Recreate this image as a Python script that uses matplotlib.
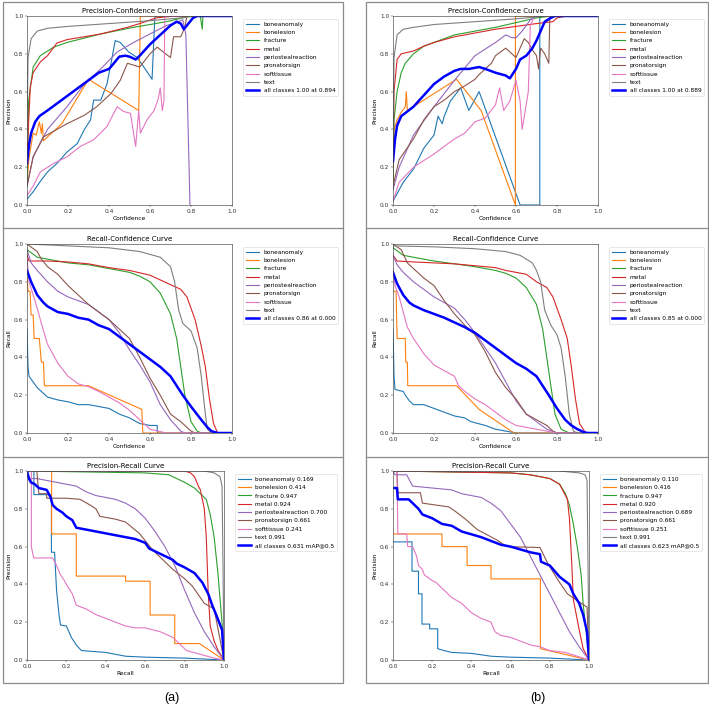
import matplotlib
matplotlib.use("Agg")
import matplotlib.pyplot as plt
from matplotlib.patches import Rectangle
from matplotlib.lines import Line2D

class_names = ["boneanomaly", "bonelesion", "fracture", "metal",
               "periostealreaction", "pronatorsign", "softtissue", "text"]
class_colors = ["C0", "C1", "C2", "C3", "C4", "C5", "C6", "C7"]

ap_a = [0.169, 0.414, 0.947, 0.924, 0.700, 0.661, 0.241, 0.991]
ap_b = [0.110, 0.416, 0.947, 0.920, 0.689, 0.661, 0.251, 0.991]
all_label_pc_a = "all classes 1.00 at 0.894"
all_label_pc_b = "all classes 1.00 at 0.889"
all_label_rc_a = "all classes 0.86 at 0.000"
all_label_rc_b = "all classes 0.85 at 0.000"
all_label_pr_a = "all classes 0.631 mAP@0.5"
all_label_pr_b = "all classes 0.623 mAP@0.5"

# ---------- (a) precision-confidence ----------
pc_a_boneanomaly = [(0, 0.03), (0.03, 0.07), (0.065, 0.125), (0.1, 0.175), (0.146, 0.22), (0.195, 0.28),
                    (0.245, 0.325), (0.28, 0.4), (0.31, 0.45), (0.325, 0.555), (0.36, 0.555), (0.39, 0.64),
                    (0.41, 0.75), (0.43, 0.87), (0.455, 0.86), (0.496, 0.81), (0.537, 0.78), (0.57, 0.73),
                    (0.61, 0.665), (0.623, 0.98), (0.625, 1.0), (1.0, 1.0)]
pc_a_bonelesion = [(0, 0.12), (0.01, 0.25), (0.03, 0.38), (0.045, 0.37), (0.06, 0.44), (0.07, 0.38),
                   (0.075, 0.43), (0.08, 0.34), (0.17, 0.43), (0.3, 0.665), (0.545, 0.5), (0.553, 1.0), (1.0, 1.0)]
pc_a_fracture = [(0, 0.1), (0.008, 0.55), (0.03, 0.73), (0.065, 0.79), (0.13, 0.835), (0.195, 0.86),
                 (0.36, 0.905), (0.52, 0.94), (0.68, 0.97), (0.78, 0.995), (0.845, 1.0), (0.855, 0.93),
                 (0.858, 1.0), (1.0, 1.0)]
pc_a_metal = [(0, 0.25), (0.016, 0.625), (0.03, 0.7), (0.065, 0.757), (0.1, 0.79), (0.146, 0.857),
              (0.195, 0.875), (0.36, 0.905), (0.49, 0.94), (0.55, 0.96), (0.63, 0.99), (0.72, 1.0), (1.0, 1.0)]
pc_a_periosteal = [(0, 0.1), (0.03, 0.255), (0.1, 0.4), (0.195, 0.52), (0.28, 0.64), (0.36, 0.72),
                   (0.44, 0.81), (0.52, 0.86), (0.6, 0.905), (0.68, 0.95), (0.715, 0.96), (0.76, 0.98),
                   (0.775, 0.9), (0.795, 0.0)]
pc_a_pronator = [(0, 0.1), (0.03, 0.255), (0.08, 0.36), (0.146, 0.4), (0.195, 0.43), (0.28, 0.475),
                 (0.34, 0.52), (0.41, 0.59), (0.455, 0.66), (0.49, 0.75), (0.55, 0.73), (0.6, 0.8),
                 (0.635, 0.835), (0.7, 0.78), (0.715, 0.89), (0.75, 0.89), (0.77, 0.94), (0.78, 1.0), (1.0, 1.0)]
pc_a_softtissue = [(0, 0.05), (0.03, 0.1), (0.065, 0.175), (0.13, 0.22), (0.195, 0.255), (0.26, 0.31),
                   (0.325, 0.345), (0.39, 0.415), (0.44, 0.52), (0.47, 0.495), (0.505, 0.485), (0.53, 0.31),
                   (0.545, 0.5), (0.553, 0.38), (0.585, 0.45), (0.62, 0.5), (0.64, 0.56), (0.65, 0.62),
                   (0.66, 0.5), (0.668, 0.55), (0.672, 1.0), (1.0, 1.0)]
pc_a_text = [(0, 0.35), (0.005, 0.78), (0.02, 0.88), (0.05, 0.92), (0.1, 0.935), (0.2, 0.945),
             (0.4, 0.96), (0.6, 0.975), (0.75, 0.99), (0.8, 1.0), (1.0, 1.0)]
pc_a_all = [(0, 0.22), (0.01, 0.32), (0.02, 0.38), (0.04, 0.44), (0.06, 0.47), (0.1, 0.5), (0.15, 0.54),
            (0.2, 0.58), (0.25, 0.62), (0.3, 0.66), (0.35, 0.7), (0.4, 0.72), (0.42, 0.745), (0.45, 0.785),
            (0.48, 0.79), (0.5, 0.785), (0.53, 0.77), (0.55, 0.79), (0.6, 0.85), (0.65, 0.9), (0.7, 0.95),
            (0.73, 0.97), (0.75, 0.96), (0.765, 0.93), (0.78, 0.95), (0.81, 0.99), (0.83, 1.0), (1.0, 1.0)]

# ---------- (b) precision-confidence ----------
pc_b_boneanomaly = [(0, 0.02), (0.05, 0.12), (0.1, 0.19), (0.15, 0.3), (0.2, 0.37), (0.22, 0.47),
                    (0.24, 0.43), (0.25, 0.47), (0.28, 0.55), (0.33, 0.62), (0.37, 0.5), (0.42, 0.6),
                    (0.62, 0.0), (0.716, 0.0), (0.716, 1.0), (1.0, 1.0)]
pc_b_bonelesion = [(0, 0.1), (0.005, 0.4), (0.02, 0.45), (0.04, 0.49), (0.06, 0.52), (0.065, 0.6),
                   (0.07, 0.5), (0.31, 0.665), (0.43, 0.5), (0.597, 0.0), (0.597, 1.0), (1.0, 1.0)]
pc_b_fracture = [(0, 0.1), (0.005, 0.45), (0.02, 0.6), (0.04, 0.7), (0.06, 0.75), (0.1, 0.8), (0.15, 0.84),
                 (0.2, 0.86), (0.3, 0.9), (0.4, 0.92), (0.5, 0.94), (0.6, 0.965), (0.7, 0.99), (0.78, 1.0),
                 (1.0, 1.0)]
pc_b_metal = [(0, 0.2), (0.005, 0.6), (0.02, 0.77), (0.04, 0.8), (0.08, 0.81), (0.1, 0.815), (0.15, 0.84),
              (0.2, 0.86), (0.3, 0.89), (0.4, 0.91), (0.5, 0.93), (0.6, 0.945), (0.7, 0.96), (0.78, 0.97),
              (0.8, 0.99), (0.85, 1.0), (1.0, 1.0)]
pc_b_periosteal = [(0, 0.08), (0.03, 0.2), (0.1, 0.37), (0.2, 0.52), (0.3, 0.66), (0.4, 0.79), (0.5, 0.86),
                   (0.55, 0.9), (0.58, 0.885), (0.6, 0.885), (0.63, 0.92), (0.65, 0.95), (0.67, 0.98),
                   (0.7, 1.0), (1.0, 1.0)]
pc_b_pronator = [(0, 0.1), (0.03, 0.24), (0.1, 0.35), (0.15, 0.45), (0.2, 0.52), (0.25, 0.555), (0.3, 0.6),
                 (0.35, 0.63), (0.4, 0.665), (0.42, 0.69), (0.45, 0.72), (0.48, 0.75), (0.5, 0.79),
                 (0.55, 0.83), (0.58, 0.8), (0.6, 0.78), (0.62, 0.83), (0.64, 0.88), (0.66, 0.86),
                 (0.68, 0.82), (0.7, 0.79), (0.71, 0.72), (0.72, 0.83), (0.74, 0.8), (0.76, 0.75),
                 (0.765, 1.0), (1.0, 1.0)]
pc_b_softtissue = [(0, 0.02), (0.03, 0.12), (0.1, 0.2), (0.2, 0.27), (0.3, 0.35), (0.35, 0.38), (0.4, 0.44),
                   (0.45, 0.46), (0.5, 0.53), (0.52, 0.62), (0.54, 0.5), (0.57, 0.55), (0.6, 0.66),
                   (0.62, 0.55), (0.63, 0.4), (0.66, 0.6), (0.67, 0.95), (0.69, 1.0), (1.0, 1.0)]
pc_b_text = [(0, 0.3), (0.005, 0.78), (0.02, 0.9), (0.05, 0.93), (0.1, 0.94), (0.2, 0.955), (0.4, 0.97),
             (0.6, 0.985), (0.75, 1.0), (1.0, 1.0)]
pc_b_all = [(0, 0.23), (0.01, 0.35), (0.02, 0.42), (0.04, 0.47), (0.1, 0.52), (0.15, 0.58), (0.2, 0.64),
            (0.25, 0.68), (0.3, 0.71), (0.33, 0.72), (0.37, 0.72), (0.42, 0.73), (0.45, 0.72), (0.5, 0.7),
            (0.55, 0.685), (0.57, 0.67), (0.6, 0.72), (0.62, 0.77), (0.65, 0.79), (0.68, 0.83), (0.7, 0.87),
            (0.72, 0.92), (0.74, 0.97), (0.77, 0.99), (0.79, 1.0), (1.0, 1.0)]

# ---------- (a) recall-confidence ----------
rc_a_boneanomaly = [(0, 0.55), (0.005, 0.35), (0.01, 0.3), (0.03, 0.27), (0.05, 0.24), (0.07, 0.22),
                    (0.1, 0.19), (0.15, 0.175), (0.2, 0.165), (0.25, 0.15), (0.3, 0.15), (0.4, 0.13),
                    (0.45, 0.1), (0.5, 0.08), (0.55, 0.05), (0.6, 0.04), (0.635, 0.04), (0.636, 0.0), (1.0, 0.0)]
rc_a_bonelesion = [(0, 0.82), (0.005, 0.75), (0.015, 0.75), (0.02, 0.625), (0.03, 0.625), (0.035, 0.5),
                   (0.06, 0.5), (0.07, 0.375), (0.08, 0.375), (0.085, 0.25), (0.3, 0.25), (0.56, 0.125),
                   (0.565, 0.0), (1.0, 0.0)]
rc_a_fracture = [(0, 0.97), (0.05, 0.93), (0.1, 0.92), (0.2, 0.9), (0.3, 0.89), (0.4, 0.87), (0.5, 0.85),
                 (0.55, 0.83), (0.6, 0.8), (0.65, 0.74), (0.7, 0.63), (0.73, 0.5), (0.75, 0.35), (0.77, 0.2),
                 (0.8, 0.06), (0.83, 0.01), (0.85, 0.0), (1.0, 0.0)]
rc_a_metal = [(0, 0.94), (0.01, 0.91), (0.1, 0.91), (0.2, 0.905), (0.3, 0.895), (0.4, 0.875), (0.5, 0.86),
              (0.6, 0.835), (0.65, 0.81), (0.7, 0.785), (0.75, 0.76), (0.78, 0.72), (0.82, 0.6), (0.85, 0.46),
              (0.87, 0.35), (0.89, 0.18), (0.91, 0.05), (0.93, 0.0), (1.0, 0.0)]
rc_a_periosteal = [(0, 0.97), (0.02, 0.9), (0.05, 0.86), (0.1, 0.8), (0.15, 0.75), (0.2, 0.72), (0.3, 0.68),
                   (0.4, 0.6), (0.45, 0.53), (0.5, 0.44), (0.55, 0.36), (0.6, 0.27), (0.65, 0.15), (0.7, 0.07),
                   (0.75, 0.01), (0.77, 0.0), (1.0, 0.0)]
rc_a_pronator = [(0, 1.0), (0.05, 0.96), (0.07, 0.92), (0.1, 0.88), (0.15, 0.84), (0.2, 0.78), (0.25, 0.73),
                 (0.3, 0.68), (0.35, 0.64), (0.4, 0.6), (0.45, 0.55), (0.5, 0.5), (0.55, 0.4), (0.6, 0.29),
                 (0.65, 0.2), (0.7, 0.1), (0.75, 0.06), (0.8, 0.01), (0.82, 0.0), (1.0, 0.0)]
rc_a_softtissue = [(0, 0.93), (0.01, 0.8), (0.03, 0.73), (0.05, 0.66), (0.07, 0.58), (0.1, 0.47), (0.13, 0.41),
                   (0.15, 0.37), (0.2, 0.3), (0.25, 0.26), (0.3, 0.245), (0.35, 0.22), (0.4, 0.19),
                   (0.45, 0.16), (0.5, 0.12), (0.55, 0.07), (0.6, 0.02), (0.68, 0.0), (1.0, 0.0)]
rc_a_text = [(0, 1.0), (0.2, 0.99), (0.4, 0.98), (0.55, 0.96), (0.65, 0.93), (0.7, 0.88), (0.72, 0.8),
             (0.74, 0.65), (0.76, 0.58), (0.8, 0.54), (0.83, 0.45), (0.85, 0.3), (0.87, 0.1), (0.88, 0.02),
             (0.9, 0.0), (1.0, 0.0)]
rc_a_all = [(0, 0.86), (0.02, 0.8), (0.05, 0.73), (0.08, 0.69), (0.1, 0.67), (0.15, 0.64), (0.2, 0.63),
            (0.25, 0.61), (0.3, 0.6), (0.35, 0.57), (0.4, 0.55), (0.45, 0.51), (0.5, 0.47), (0.55, 0.43),
            (0.6, 0.39), (0.65, 0.35), (0.7, 0.3), (0.73, 0.25), (0.76, 0.2), (0.8, 0.14), (0.85, 0.07),
            (0.88, 0.03), (0.9, 0.01), (0.93, 0.0), (1.0, 0.0)]

# ---------- (b) recall-confidence ----------
rc_b_boneanomaly = [(0, 0.55), (0.005, 0.3), (0.01, 0.23), (0.05, 0.22), (0.06, 0.2), (0.08, 0.17),
                    (0.1, 0.15), (0.15, 0.15), (0.2, 0.13), (0.25, 0.11), (0.3, 0.09), (0.35, 0.08),
                    (0.38, 0.06), (0.45, 0.04), (0.5, 0.02), (0.55, 0.01), (0.6, 0.0), (1.0, 0.0)]
rc_b_bonelesion = [(0, 0.75), (0.015, 0.75), (0.02, 0.5), (0.06, 0.5), (0.062, 0.375), (0.07, 0.375),
                   (0.072, 0.25), (0.31, 0.25), (0.42, 0.125), (0.59, 0.0), (1.0, 0.0)]
rc_b_fracture = [(0, 0.98), (0.05, 0.94), (0.1, 0.93), (0.2, 0.91), (0.3, 0.895), (0.4, 0.88), (0.5, 0.86),
                 (0.55, 0.845), (0.6, 0.82), (0.65, 0.77), (0.7, 0.68), (0.73, 0.55), (0.75, 0.4), (0.77, 0.25),
                 (0.79, 0.1), (0.82, 0.02), (0.86, 0.0), (1.0, 0.0)]
rc_b_metal = [(0, 0.94), (0.02, 0.91), (0.1, 0.905), (0.2, 0.9), (0.3, 0.895), (0.4, 0.885), (0.5, 0.875),
              (0.55, 0.86), (0.6, 0.85), (0.65, 0.84), (0.7, 0.8), (0.75, 0.77), (0.78, 0.72), (0.82, 0.6),
              (0.85, 0.5), (0.87, 0.35), (0.89, 0.18), (0.91, 0.05), (0.94, 0.0), (1.0, 0.0)]
rc_b_periosteal = [(0, 0.94), (0.02, 0.89), (0.05, 0.85), (0.1, 0.8), (0.2, 0.72), (0.3, 0.66), (0.35, 0.6),
                   (0.4, 0.53), (0.45, 0.45), (0.5, 0.37), (0.55, 0.27), (0.6, 0.17), (0.65, 0.1), (0.7, 0.06),
                   (0.75, 0.02), (0.8, 0.0), (1.0, 0.0)]
rc_b_pronator = [(0, 1.0), (0.04, 0.97), (0.07, 0.9), (0.1, 0.87), (0.15, 0.82), (0.2, 0.78), (0.25, 0.7),
                 (0.3, 0.63), (0.35, 0.57), (0.4, 0.52), (0.45, 0.43), (0.5, 0.32), (0.55, 0.24), (0.6, 0.18),
                 (0.65, 0.1), (0.7, 0.07), (0.75, 0.04), (0.78, 0.01), (0.8, 0.0), (1.0, 0.0)]
rc_b_softtissue = [(0, 0.87), (0.01, 0.78), (0.03, 0.72), (0.05, 0.64), (0.07, 0.56), (0.1, 0.5), (0.15, 0.42),
                   (0.2, 0.36), (0.25, 0.33), (0.3, 0.3), (0.32, 0.25), (0.35, 0.22), (0.4, 0.18), (0.45, 0.15),
                   (0.5, 0.11), (0.55, 0.07), (0.6, 0.04), (0.7, 0.02), (0.75, 0.01), (0.8, 0.0), (1.0, 0.0)]
rc_b_text = [(0, 0.99), (0.2, 0.985), (0.4, 0.975), (0.55, 0.96), (0.62, 0.94), (0.68, 0.9), (0.7, 0.86),
             (0.72, 0.8), (0.74, 0.65), (0.77, 0.57), (0.8, 0.52), (0.82, 0.45), (0.84, 0.3), (0.86, 0.1),
             (0.88, 0.01), (0.9, 0.0), (1.0, 0.0)]
rc_b_all = [(0, 0.85), (0.02, 0.79), (0.05, 0.73), (0.08, 0.69), (0.1, 0.675), (0.15, 0.65), (0.2, 0.63),
            (0.25, 0.61), (0.3, 0.585), (0.35, 0.56), (0.4, 0.53), (0.45, 0.49), (0.5, 0.45), (0.55, 0.41),
            (0.6, 0.37), (0.65, 0.34), (0.7, 0.3), (0.73, 0.25), (0.76, 0.2), (0.8, 0.13), (0.84, 0.07),
            (0.87, 0.04), (0.9, 0.02), (0.93, 0.005), (0.95, 0.0), (1.0, 0.0)]

# ---------- (a) precision-recall ----------
pr_a_boneanomaly = [(0, 1.0), (0.035, 1.0), (0.035, 0.875), (0.124, 0.875), (0.124, 0.57), (0.14, 0.57),
                    (0.15, 0.37), (0.163, 0.235), (0.17, 0.185), (0.2, 0.18), (0.225, 0.12), (0.25, 0.08),
                    (0.276, 0.05), (0.4, 0.04), (0.5, 0.02), (0.6, 0.015), (0.8, 0.01), (1.0, 0.0)]
pr_a_bonelesion = [(0, 1.0), (0.125, 1.0), (0.125, 0.667), (0.25, 0.667), (0.25, 0.444), (0.5, 0.444),
                   (0.5, 0.417), (0.625, 0.417), (0.625, 0.238), (0.75, 0.238), (0.75, 0.087), (0.875, 0.087),
                   (1.0, 0.0)]
pr_a_fracture = [(0, 1.0), (0.6, 0.99), (0.72, 0.98), (0.8, 0.94), (0.85, 0.91), (0.91, 0.85), (0.93, 0.77),
                 (0.95, 0.65), (0.97, 0.45), (0.98, 0.32), (0.99, 0.2), (1.0, 0.0)]
pr_a_metal = [(0, 1.0), (0.8, 1.0), (0.83, 0.99), (0.85, 0.97), (0.87, 0.92), (0.88, 0.9), (0.89, 0.85),
              (0.9, 0.8), (0.91, 0.65), (0.92, 0.35), (0.93, 0.18), (0.95, 0.1), (0.97, 0.05), (1.0, 0.0)]
pr_a_periosteal = [(0, 1.0), (0.01, 0.96), (0.05, 0.96), (0.1, 0.95), (0.15, 0.94), (0.2, 0.93), (0.25, 0.92),
                   (0.3, 0.89), (0.35, 0.87), (0.4, 0.86), (0.45, 0.85), (0.5, 0.83), (0.55, 0.8), (0.6, 0.75),
                   (0.65, 0.68), (0.7, 0.6), (0.75, 0.5), (0.8, 0.37), (0.85, 0.25), (0.9, 0.15), (0.95, 0.07),
                   (1.0, 0.0)]
pr_a_pronator = [(0, 1.0), (0.05, 1.0), (0.06, 0.88), (0.1, 0.88), (0.1, 0.856), (0.2, 0.856), (0.27, 0.85),
                 (0.32, 0.82), (0.35, 0.8), (0.37, 0.76), (0.45, 0.745), (0.5, 0.73), (0.57, 0.67),
                 (0.64, 0.58), (0.7, 0.52), (0.74, 0.48), (0.8, 0.43), (0.84, 0.39), (0.9, 0.3),
                 (0.95, 0.27), (1.0, 0.0)]
pr_a_softtissue = [(0, 1.0), (0.022, 1.0), (0.022, 0.6), (0.034, 0.54), (0.13, 0.54), (0.15, 0.5),
                   (0.17, 0.45), (0.19, 0.42), (0.2, 0.4), (0.23, 0.35), (0.25, 0.29), (0.3, 0.27),
                   (0.35, 0.24), (0.4, 0.22), (0.45, 0.2), (0.5, 0.18), (0.55, 0.17), (0.6, 0.17),
                   (0.675, 0.15), (0.74, 0.12), (0.78, 0.08), (0.81, 0.05), (0.88, 0.03), (0.95, 0.01),
                   (1.0, 0.0)]
pr_a_text = [(0, 1.0), (0.9, 1.0), (0.95, 0.99), (0.98, 0.97), (0.99, 0.92), (0.995, 0.5), (1.0, 0.0)]
pr_a_all = [(0, 1.0), (0.01, 0.96), (0.02, 0.94), (0.04, 0.93), (0.06, 0.91), (0.1, 0.9), (0.12, 0.86),
            (0.13, 0.82), (0.15, 0.8), (0.18, 0.78), (0.2, 0.76), (0.23, 0.74), (0.25, 0.7), (0.3, 0.69),
            (0.4, 0.67), (0.5, 0.65), (0.55, 0.64), (0.6, 0.62), (0.62, 0.59), (0.7, 0.55), (0.74, 0.53),
            (0.76, 0.51), (0.8, 0.49), (0.85, 0.46), (0.89, 0.41), (0.92, 0.35), (0.94, 0.29),
            (0.96, 0.24), (0.99, 0.16), (1.0, 0.0)]

# ---------- (b) precision-recall ----------
pr_b_boneanomaly = [(0, 0.625), (0.097, 0.625), (0.097, 0.47), (0.13, 0.47), (0.13, 0.35), (0.148, 0.35),
                    (0.148, 0.19), (0.187, 0.19), (0.187, 0.165), (0.228, 0.165), (0.228, 0.06), (0.26, 0.05),
                    (0.3, 0.04), (0.4, 0.035), (0.5, 0.02), (0.6, 0.015), (0.8, 0.01), (1.0, 0.0)]
pr_b_bonelesion = [(0, 0.667), (0.25, 0.667), (0.25, 0.6), (0.378, 0.6), (0.378, 0.5), (0.5, 0.5),
                   (0.5, 0.429), (0.752, 0.429), (0.752, 0.06), (1.0, 0.0)]
pr_b_fracture = [(0, 1.0), (0.6, 0.99), (0.7, 0.98), (0.8, 0.96), (0.85, 0.93), (0.88, 0.88), (0.9, 0.82),
                 (0.92, 0.72), (0.94, 0.6), (0.96, 0.45), (0.97, 0.3), (0.98, 0.2), (1.0, 0.0)]
pr_b_metal = [(0, 1.0), (0.6, 0.99), (0.7, 0.98), (0.8, 0.96), (0.85, 0.93), (0.89, 0.85), (0.9, 0.75),
              (0.913, 0.49), (0.92, 0.32), (0.95, 0.16), (0.97, 0.06), (1.0, 0.0)]
pr_b_periosteal = [(0, 1.0), (0.01, 0.98), (0.07, 0.98), (0.1, 0.92), (0.2, 0.91), (0.3, 0.9), (0.35, 0.88),
                   (0.4, 0.87), (0.45, 0.86), (0.5, 0.83), (0.55, 0.79), (0.6, 0.72), (0.65, 0.65), (0.7, 0.55),
                   (0.75, 0.45), (0.8, 0.35), (0.85, 0.25), (0.9, 0.15), (0.95, 0.07), (1.0, 0.0)]
pr_b_pronator = [(0, 1.0), (0.02, 1.0), (0.025, 0.885), (0.14, 0.885), (0.15, 0.83), (0.285, 0.81),
                 (0.32, 0.785), (0.37, 0.745), (0.43, 0.69), (0.53, 0.635), (0.58, 0.6), (0.75, 0.595),
                 (0.79, 0.51), (0.85, 0.41), (0.89, 0.35), (0.96, 0.3), (0.99, 0.28), (1.0, 0.0)]
pr_b_softtissue = [(0, 1.0), (0.02, 1.0), (0.025, 0.667), (0.07, 0.667), (0.075, 0.6), (0.1, 0.6),
                   (0.12, 0.55), (0.13, 0.5), (0.15, 0.48), (0.16, 0.45), (0.2, 0.42), (0.22, 0.41),
                   (0.25, 0.38), (0.3, 0.33), (0.35, 0.3), (0.4, 0.25), (0.45, 0.22), (0.5, 0.2),
                   (0.52, 0.15), (0.55, 0.13), (0.6, 0.12), (0.65, 0.1), (0.7, 0.08), (0.75, 0.07),
                   (0.8, 0.05), (0.88, 0.04), (1.0, 0.0)]
pr_b_text = [(0, 1.0), (0.85, 1.0), (0.95, 0.99), (0.98, 0.98), (0.99, 0.95), (0.995, 0.5), (1.0, 0.0)]
pr_b_all = [(0, 0.91), (0.02, 0.91), (0.025, 0.85), (0.08, 0.85), (0.1, 0.83), (0.13, 0.8), (0.15, 0.77),
            (0.2, 0.75), (0.25, 0.72), (0.3, 0.71), (0.35, 0.68), (0.4, 0.665), (0.45, 0.65), (0.5, 0.63),
            (0.55, 0.61), (0.6, 0.6), (0.7, 0.57), (0.75, 0.56), (0.755, 0.52), (0.8, 0.5), (0.85, 0.44),
            (0.9, 0.4), (0.92, 0.35), (0.95, 0.3), (0.97, 0.24), (0.99, 0.15), (1.0, 0.0)]


FS = 4.2
THIN = 0.8
THICK = 1.8


def draw_curves(ax, curves, labels, all_curve, all_label, title, xlabel, ylabel):
    for pts, lab, col in zip(curves, labels, class_colors):
        xs, ys = zip(*pts)
        ax.plot(xs, ys, color=col, linewidth=THIN, label=lab)
    xs, ys = zip(*all_curve)
    ax.plot(xs, ys, color="blue", linewidth=THICK, label=all_label)
    ax.set_xlim(0, 1)
    ax.set_ylim(0, 1)
    ax.set_xticks([0, 0.2, 0.4, 0.6, 0.8, 1.0])
    ax.set_yticks([0, 0.2, 0.4, 0.6, 0.8, 1.0])
    ax.tick_params(labelsize=FS, length=1.5, width=0.35, pad=1.2, colors="#333333")
    for sp in ax.spines.values():
        sp.set_linewidth(0.45)
        sp.set_color("#444444")
    ax.set_title(title, fontsize=5.0, pad=2.5)
    ax.set_xlabel(xlabel, fontsize=FS, labelpad=1.5)
    ax.set_ylabel(ylabel, fontsize=FS, labelpad=2)
    leg = ax.legend(bbox_to_anchor=(1.04, 1), loc="upper left", fontsize=FS, frameon=True,
                    borderpad=0.5, handlelength=2.2, labelspacing=0.55)
    leg.get_frame().set_linewidth(0.4)


W, H = 709, 706
fig = plt.figure(figsize=(W / 100, H / 100), dpi=100)


def axes_at(x0, x1, y0, y1):
    return fig.add_axes([x0 / W, 1 - y1 / H, (x1 - x0) / W, (y1 - y0) / H])


# panel frames
for bx0, bx1 in [(3, 343), (366, 708)]:
    fig.add_artist(Rectangle((bx0 / W, 1 - 683 / H), (bx1 - bx0) / W, (683 - 2) / H,
                             transform=fig.transFigure, fill=False, edgecolor="#8a8a8a", linewidth=0.9))
    for yy in (228, 457):
        fig.add_artist(Line2D([bx0 / W, bx1 / W], [1 - yy / H, 1 - yy / H],
                              transform=fig.transFigure, color="#8a8a8a", linewidth=0.9))

pc_a = [pc_a_boneanomaly, pc_a_bonelesion, pc_a_fracture, pc_a_metal,
        pc_a_periosteal, pc_a_pronator, pc_a_softtissue, pc_a_text]
pc_b = [pc_b_boneanomaly, pc_b_bonelesion, pc_b_fracture, pc_b_metal,
        pc_b_periosteal, pc_b_pronator, pc_b_softtissue, pc_b_text]
rc_a = [rc_a_boneanomaly, rc_a_bonelesion, rc_a_fracture, rc_a_metal,
        rc_a_periosteal, rc_a_pronator, rc_a_softtissue, rc_a_text]
rc_b = [rc_b_boneanomaly, rc_b_bonelesion, rc_b_fracture, rc_b_metal,
        rc_b_periosteal, rc_b_pronator, rc_b_softtissue, rc_b_text]
pr_a = [pr_a_boneanomaly, pr_a_bonelesion, pr_a_fracture, pr_a_metal,
        pr_a_periosteal, pr_a_pronator, pr_a_softtissue, pr_a_text]
pr_b = [pr_b_boneanomaly, pr_b_bonelesion, pr_b_fracture, pr_b_metal,
        pr_b_periosteal, pr_b_pronator, pr_b_softtissue, pr_b_text]

pr_labels_a = [f"{n} {v:.3f}" for n, v in zip(class_names, ap_a)]
pr_labels_b = [f"{n} {v:.3f}" for n, v in zip(class_names, ap_b)]

draw_curves(axes_at(27, 232, 16, 205), pc_a, class_names, pc_a_all, all_label_pc_a,
            "Precision-Confidence Curve", "Confidence", "Precision")
draw_curves(axes_at(393, 598, 16, 205), pc_b, class_names, pc_b_all, all_label_pc_b,
            "Precision-Confidence Curve", "Confidence", "Precision")
draw_curves(axes_at(27, 232, 244, 433), rc_a, class_names, rc_a_all, all_label_rc_a,
            "Recall-Confidence Curve", "Confidence", "Recall")
draw_curves(axes_at(393, 598, 244, 433), rc_b, class_names, rc_b_all, all_label_rc_b,
            "Recall-Confidence Curve", "Confidence", "Recall")
draw_curves(axes_at(27, 224, 471, 660), pr_a, pr_labels_a, pr_a_all, all_label_pr_a,
            "Precision-Recall Curve", "Recall", "Precision")
draw_curves(axes_at(393, 589, 471, 660), pr_b, pr_labels_b, pr_b_all, all_label_pr_b,
            "Precision-Recall Curve", "Recall", "Precision")

fig.text(172 / W, 1 - 698 / H, "(a)", ha="center", va="center", fontsize=9, family="Liberation Sans")
fig.text(538 / W, 1 - 698 / H, "(b)", ha="center", va="center", fontsize=9, family="Liberation Sans")

fig.savefig("out.png", dpi=100)
